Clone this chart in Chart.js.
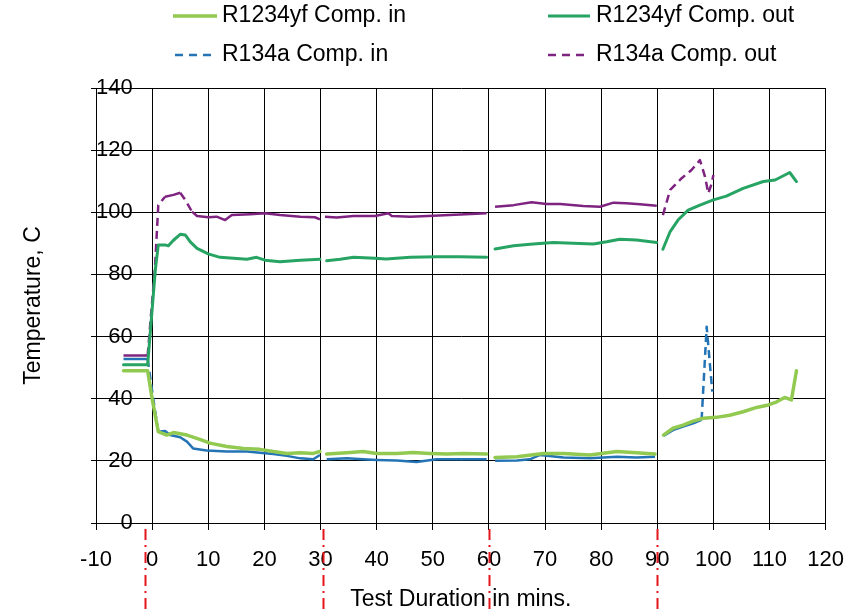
<!DOCTYPE html>
<html>
<head>
<meta charset="utf-8">
<script src="https://cdn.jsdelivr.net/npm/chart.js@4/dist/chart.umd.min.js"></script>
<style>
  html, body { margin: 0; padding: 0; background: #fff; }
  canvas { display: block; }
</style>
</head>
<body>
<canvas id="c" width="861" height="613"></canvas>
<script>
// ---- Data ----
const seriesNames = ['R1234yf Comp. in', 'R1234yf Comp. out', 'R134a Comp. in', 'R134a Comp. out'];
const xTitle = 'Test Duration in mins.';
const yTitle = 'Temperature, C';
const xRange = [-10, 120];
const yRange = [0, 140];
const markerTimes = [-1.25, 30.4, 60, 90];

// R1234yf Comp. in (light green)
const yfInTime = [-5.1, -0.8, 0, 1.1, 2.6, 3.8, 6.2, 8.5, 10.3, 13.3, 16.3, 19.2, 21.6, 24.0, 26.4, 28.7, 29.9, 30.4,
  31.1, 34.7, 37.6, 40, 43.6, 46.5, 49.5, 52.5, 55.4, 59.6, 60.3,
  61.1, 65, 69.7, 73.3, 78, 82.8, 86.3, 89.6, 90.4,
  91.1, 92.8, 94.6, 96.4, 98.2, 100.5, 102.9, 105.3, 107.7, 109.8, 111.3, 112.7, 113.9, 114.8];
const yfInTemp = [49.0, 49.0, 40, 29.4, 28.3, 29.1, 28.3, 26.9, 25.7, 24.6, 24.0, 23.7, 23.0, 22.4, 22.6, 22.4, 23.0, null,
  22.2, 22.6, 23.0, 22.4, 22.4, 22.7, 22.4, 22.2, 22.4, 22.2, null,
  21.1, 21.3, 22.4, 22.4, 21.9, 23.0, 22.6, 22.2, null,
  28.3, 30.5, 31.5, 32.8, 33.7, 34.0, 34.7, 35.8, 37.2, 38.0, 39.0, 40.4, 39.6, 49.0];

// R1234yf Comp. out (dark green)
const yfOutTime = [-5.1, -0.8, 0.6, 1.1, 2.3, 2.9, 3.8, 5.0, 5.9, 6.8, 8.0, 10, 12.1, 14.5, 16.9, 18.6, 20.1, 22.8, 26.4, 29.9, 30.4,
  31.1, 33.5, 35.9, 39.7, 41.7, 46, 50.7, 54.9, 59.6, 60.3,
  61.1, 64.4, 67.9, 71.5, 75.0, 78.6, 81, 83.3, 86.3, 89.9, 90.4,
  91, 92.3, 93.7, 95.5, 97.6, 100, 102.3, 105.3, 108.9, 111, 113.6, 114.8];
const yfOutTemp = [50.9, 50.9, 82, 89.5, 89.5, 89.2, 91, 92.9, 92.7, 90.5, 88.4, 86.6, 85.5, 85.2, 84.9, 85.5, 84.6, 84.1, 84.6, 84.9, null,
  84.4, 84.9, 85.5, 85.2, 85.0, 85.5, 85.7, 85.7, 85.5, null,
  88.2, 89.2, 89.8, 90.3, 90.0, 89.8, 90.5, 91.3, 91.1, 90.3, null,
  88.1, 93.8, 97.5, 100.7, 102.3, 104, 105.2, 107.7, 109.9, 110.4, 112.8, 109.9];

// R134a Comp. in (blue, dashed)
const aInTime = [-5.1, -0.8, 0.2, 1.1, 2.3, 3.2, 5.0, 6.2, 7.3, 9.7, 13.3, 16.9, 19.2, 21.6, 24, 26.4, 28.7, 29.9, 30.4,
  31.1, 34.7, 37.6, 40, 43.6, 47.1, 50.7, 56.0, 59.6, 60.3,
  61.1, 65, 67.3, 69.1, 73.3, 78, 82.8, 86.3, 89.6, 90.4,
  91.1, 92.8, 94.6, 96.4, 97.9, 98.8, 99.8];
const aInTemp = [52.8, 52.8, 40, 29.4, 29.6, 28.3, 27.6, 26.2, 24.0, 23.3, 23.0, 23.0, 22.6, 22.2, 21.6, 20.8, 20.5, 21.9, null,
  20.5, 20.8, 20.5, 20.3, 20.1, 19.6, 20.5, 20.5, 20.5, null,
  20.0, 20.1, 20.5, 21.9, 21.1, 20.8, 21.3, 21.1, 21.3, null,
  28.0, 29.9, 31.0, 32.1, 33.2, 63.2, 42.3];

// R134a Comp. out (purple, dashed)
const aOutTime = [-5.1, -0.8, 0.5, 1.1, 2.3, 3.8, 5.0, 5.9, 7.1, 8.0, 10, 11.5, 13, 14.2, 17.5, 20.1, 22.8, 26.4, 29, 29.9, 30.4,
  30.8, 32.9, 35.9, 39.7, 42.1, 42.7, 46, 50.1, 54.9, 59.6, 60.3,
  61.1, 64.4, 67.6, 70.3, 72.7, 76.8, 79.8, 82.2, 84.5, 86.9, 89.9, 90.4,
  91, 92.3, 94.3, 96.1, 97.6, 98.5, 99.1, 99.7, 100];
const aOutTemp = [53.9, 53.9, 82, 102.3, 105, 105.6, 106.3, 104, 100.2, 98.8, 98.4, 98.6, 97.5, 99.1, 99.4, 99.7, 99.1, 98.6, 98.4, 97.7, null,
  98.6, 98.3, 98.8, 98.8, 99.7, 98.8, 98.6, 98.9, 99.3, 99.7, null,
  101.8, 102.3, 103.2, 102.7, 102.7, 102.0, 101.8, 103.1, 102.9, 102.6, 102.1, null,
  99.1, 107.2, 110.9, 113.6, 116.8, 111.5, 106.1, 109.3, 112];

// ---- Styles ----
const FONT = "'Liberation Sans', Arial, sans-serif";
const colors = ['#92C951', '#27A463', '#2474B5', '#7E2480'];
const widths = [3.5, 3, 2.5, 2.5];
const DASH = [8, 5];

const toPts = (t, v) => t.map((x, i) => ({ x: x, y: v[i] }));

// Excel-like dashing: dash pattern restarts per segment, so only long/steep segments look dashed
const excelDash = {
  borderDash: c => Math.abs(c.p1.y - c.p0.y) > 7 ? DASH : []
};

const datasets = [
  { label: seriesNames[0], data: toPts(yfInTime, yfInTemp), borderColor: colors[0], borderWidth: widths[0],
    borderCapStyle: 'round', borderJoinStyle: 'round' },
  { label: seriesNames[1], data: toPts(yfOutTime, yfOutTemp), borderColor: colors[1], borderWidth: widths[1],
    borderCapStyle: 'round', borderJoinStyle: 'round' },
  { label: seriesNames[2], data: toPts(aInTime, aInTemp), borderColor: colors[2], borderWidth: widths[2],
    borderDash: [], borderJoinStyle: 'round', segment: excelDash },
  { label: seriesNames[3], data: toPts(aOutTime, aOutTemp), borderColor: colors[3], borderWidth: widths[3],
    borderDash: [], borderJoinStyle: 'round', segment: excelDash }
];

// Custom two-column legend
const legendPlugin = {
  id: 'twoColLegend',
  afterDraw(chart) {
    const ctx = chart.ctx;
    const slots = [
      { x: 173, y: 16, len: 44 }, { x: 548, y: 16, len: 42 },
      { x: 175, y: 55, len: 36 }, { x: 548, y: 55, len: 36 }
    ];
    const textX = [222, 596, 222, 596];
    chart.data.datasets.forEach((ds, i) => {
      const s = slots[i];
      ctx.save();
      ctx.strokeStyle = ds.borderColor;
      ctx.lineWidth = ds.borderWidth;
      ctx.setLineDash(i >= 2 ? [8, 6] : []);
      ctx.lineCap = 'butt';
      ctx.beginPath();
      ctx.moveTo(s.x, s.y);
      ctx.lineTo(s.x + s.len, s.y);
      ctx.stroke();
      ctx.setLineDash([]);
      ctx.fillStyle = '#000';
      ctx.font = '23px ' + FONT;
      ctx.textBaseline = 'middle';
      ctx.textAlign = 'left';
      ctx.fillText(ds.label, textX[i], s.y);
      ctx.restore();
    });
  }
};

// Red dash-dot markers below the axis
const markerPlugin = {
  id: 'markers',
  afterDraw(chart) {
    const ctx = chart.ctx;
    const xs = chart.scales.x;
    const top = chart.chartArea.bottom + 6;
    ctx.save();
    ctx.strokeStyle = '#E3151B';
    ctx.lineWidth = 2;
    ctx.setLineDash([11, 5, 2, 5]);
    markerTimes.forEach(t => {
      const px = Math.round(xs.getPixelForValue(t)) + 0.5;
      ctx.beginPath();
      ctx.moveTo(px, top);
      ctx.lineTo(px, chart.height);
      ctx.stroke();
    });
    ctx.restore();
  }
};

new Chart(document.getElementById('c'), {
  type: 'line',
  data: { datasets },
  options: {
    responsive: false,
    animation: false,
    devicePixelRatio: 1,
    layout: { padding: { top: 88, right: 35, left: 0, bottom: 0 } },
    plugins: { legend: { display: false }, tooltip: { enabled: false } },
    elements: { point: { radius: 0 }, line: { tension: 0 } },
    scales: {
      x: {
        type: 'linear', min: xRange[0], max: xRange[1],
        ticks: { stepSize: 10, color: '#000', font: { family: FONT, size: 22 }, padding: 17, maxRotation: 0, autoSkip: false },
        grid: { color: '#000', lineWidth: 1, tickLength: 7 },
        border: { color: '#000', width: 1 },
        title: { display: true, text: xTitle, color: '#000', font: { family: FONT, size: 23 }, padding: { top: 1, bottom: 0 } },
        afterFit: s => { s.height = 90; }
      },
      y: {
        type: 'linear', min: yRange[0], max: yRange[1],
        ticks: { stepSize: 20, color: '#000', font: { family: FONT, size: 22 }, mirror: true, crossAlign: 'far', padding: 0 },
        grid: { color: '#000', lineWidth: 1, tickLength: 5 },
        border: { color: '#000', width: 1 },
        title: { display: true, text: yTitle, color: '#000', font: { family: FONT, size: 23 }, padding: { top: 20, bottom: 0 } },
        afterFit: s => { s.width = 96; }
      }
    }
  },
  plugins: [legendPlugin, markerPlugin]
});
</script>
</body>
</html>
